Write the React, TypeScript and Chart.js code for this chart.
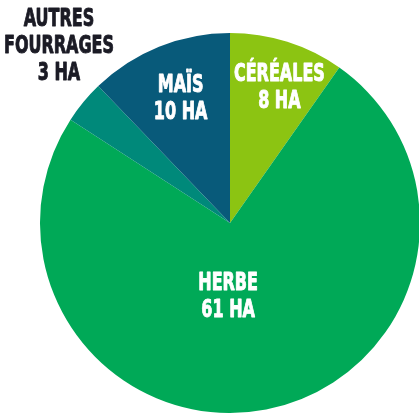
import React, { useEffect, useRef } from "react";
import { Chart, registerables } from "chart.js";
Chart.register(...registerables);

const categories = ["CÉRÉALES", "HERBE", "AUTRES FOURRAGES", "MAÏS"];
const hectares = [8, 61, 3, 10];
const colors = ["#8cc412", "#00a957", "#00897a", "#085a7a"];
const labelLines = [
  ["CÉRÉALES", "8 HA"],
  ["HERBE", "61 HA"],
  ["AUTRES", "FOURRAGES", "3 HA"],
  ["MAÏS", "10 HA"],
];

// label anchor offsets relative to pie centre, as fractions of radius
const anchorOffsets = [
  [0.26, -0.71],
  [-0.01, 0.39],
  [-0.9, -0.93],
  [-0.26, -0.65],
];

const labelPlugin = {
  id: "sliceLabels",
  afterDatasetsDraw(chart: any) {
    const ctx = chart.ctx;
    const meta = chart.getDatasetMeta(0);
    ctx.save();
    ctx.font = "bold 24px 'DejaVu Sans Condensed', 'DejaVu Sans', sans-serif";
    ctx.textAlign = "center";
    ctx.textBaseline = "middle";
    ctx.lineJoin = "round";
    const lh = 27;
    meta.data.forEach((arc: any, i: number) => {
      const { x, y, outerRadius } = arc.getProps(["x", "y", "outerRadius"], true);
      const cx = x + anchorOffsets[i][0] * outerRadius;
      const cy = y + anchorOffsets[i][1] * outerRadius;
      const lines = labelLines[i];
      const c = i === 2 ? "#1b1b25" : "#ffffff";
      ctx.fillStyle = c;
      ctx.strokeStyle = c;
      ctx.lineWidth = 0.9;
      const startY = cy - ((lines.length - 1) * lh) / 2;
      lines.forEach((t, k) => {
        ctx.save();
        ctx.translate(cx, startY + k * lh);
        ctx.scale(0.74, 1);
        ctx.fillText(t, 0, 0);
        ctx.strokeText(t, 0, 0);
        ctx.restore();
      });
    });
    ctx.restore();
  },
};

export default function App() {
  const ref = useRef<HTMLCanvasElement>(null);
  useEffect(() => {
    document.body.style.margin = "0";
    const chart = new Chart(ref.current!, {
      type: "pie",
      data: {
        labels: categories,
        datasets: [
          {
            data: hectares,
            backgroundColor: colors,
            borderWidth: 0,
          },
        ],
      },
      options: {
        animation: false,
        responsive: false,
        layout: { padding: { left: 40, right: 40, top: 33, bottom: 33 } },
        plugins: { legend: { display: false }, tooltip: { enabled: false } },
      },
      plugins: [labelPlugin],
    });
    return () => chart.destroy();
  }, []);
  return (
    <div style={{ width: 419, height: 414, overflow: "hidden", position: "relative", background: "#fff" }}>
      <canvas ref={ref} width={460} height={446} style={{ position: "absolute", left: 0, top: 0 }} />
    </div>
  );
}
